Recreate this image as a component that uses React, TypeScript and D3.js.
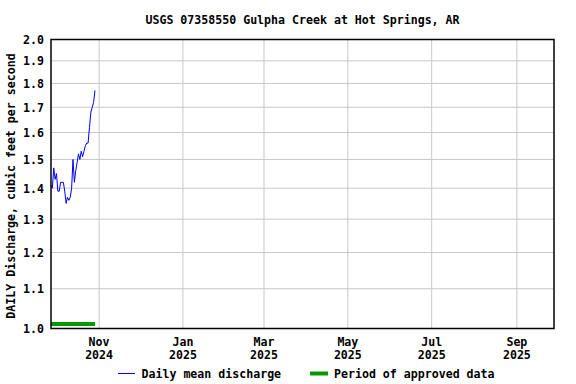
import React from "react";
import * as d3 from "d3";

const TITLE = "USGS 07358550 Gulpha Creek at Hot Springs, AR";
const Y_LABEL = "DAILY Discharge, cubic feet per second";
const START_DATE = "2024-09-27";
const DISCHARGE = [
  1.41, 1.40, 1.47, 1.43, 1.45, 1.39, 1.39, 1.42, 1.42, 1.42, 1.39, 1.35, 1.37,
  1.36, 1.37, 1.40, 1.50, 1.42, 1.46, 1.49, 1.52, 1.50, 1.53, 1.51, 1.53, 1.55,
  1.56, 1.56, 1.62, 1.68, 1.70, 1.72, 1.77,
];
const Y_TICKS = [1.0, 1.1, 1.2, 1.3, 1.4, 1.5, 1.6, 1.7, 1.8, 1.9, 2.0];
const X_TICKS = [
  { date: "2024-11-01", m: "Nov", y: "2024" },
  { date: "2025-01-01", m: "Jan", y: "2025" },
  { date: "2025-03-01", m: "Mar", y: "2025" },
  { date: "2025-05-01", m: "May", y: "2025" },
  { date: "2025-07-01", m: "Jul", y: "2025" },
  { date: "2025-09-01", m: "Sep", y: "2025" },
];
const X_DOMAIN = ["2024-09-27", "2025-09-28"];
const LEGEND = ["Daily mean discharge", "Period of approved data"];

const parse = (s: string) => new Date(s + "T00:00:00Z");

export default function App() {
  const W = 576, H = 384;
  const L = 51, R = 554, T = 39.5, B = 328.5;
  const x = d3.scaleUtc().domain(X_DOMAIN.map(parse)).range([L, R]);
  const y = d3.scaleLog().domain([1, 2]).range([B, T]);
  const start = parse(START_DATE);
  const pts = DISCHARGE.map((v, i) => ({ d: d3.utcDay.offset(start, i), v }));
  const line = d3.line<{ d: Date; v: number }>().x((p) => x(p.d)).y((p) => y(p.v));
  const font = "'DejaVu Sans Mono', monospace";
  const fs = 11.6;
  const first = pts[0].d, last = pts[pts.length - 1].d;
  return (
    <svg width={W} height={H} style={{ position: "absolute", left: 0, top: 0, background: "#fff" }}
      fontFamily={font} fontWeight="bold" fontSize={fs}>
      <rect x={0} y={0} width={W} height={H} fill="#fff" />
      <text x={(L + R) / 2} y={24} textAnchor="middle">{TITLE}</text>
      {Y_TICKS.slice(1, -1).map((t) => (
        <line key={"h" + t} x1={L} x2={R} y1={y(t)} y2={y(t)} stroke="#c8c8c8" strokeWidth={1} />
      ))}
      {X_TICKS.map((t) => (
        <line key={"v" + t.date} x1={x(parse(t.date))} x2={x(parse(t.date))} y1={T} y2={B} stroke="#c8c8c8" strokeWidth={1} />
      ))}
      {Y_TICKS.map((t) => (
        <text key={"yl" + t} x={44} y={y(t) + 4.5} textAnchor="end">{t.toFixed(1)}</text>
      ))}
      {X_TICKS.map((t) => (
        <g key={"xl" + t.date}>
          <text x={x(parse(t.date))} y={346} textAnchor="middle">{t.m}</text>
          <text x={x(parse(t.date))} y={358.5} textAnchor="middle">{t.y}</text>
        </g>
      ))}
      <text transform={`translate(15,${(T + B) / 2 + 2}) rotate(-90)`} textAnchor="middle">{Y_LABEL}</text>
      <line x1={x(first)} x2={x(last)} y1={324} y2={324} stroke="#009900" strokeWidth={4} />
      <path d={line(pts) || ""} fill="none" stroke="#0000ff" strokeWidth={1} />
      <rect x={L} y={T} width={R - L} height={B - T} fill="none" stroke="#000" strokeWidth={1.5} />
      <line x1={118} x2={135} y1={373.5} y2={373.5} stroke="#0000ff" strokeWidth={1} />
      <text x={141.5} y={377.5}>{LEGEND[0]}</text>
      <line x1={310} x2={328} y1={373.5} y2={373.5} stroke="#009900" strokeWidth={4} />
      <text x={334} y={377.5}>{LEGEND[1]}</text>
    </svg>
  );
}
